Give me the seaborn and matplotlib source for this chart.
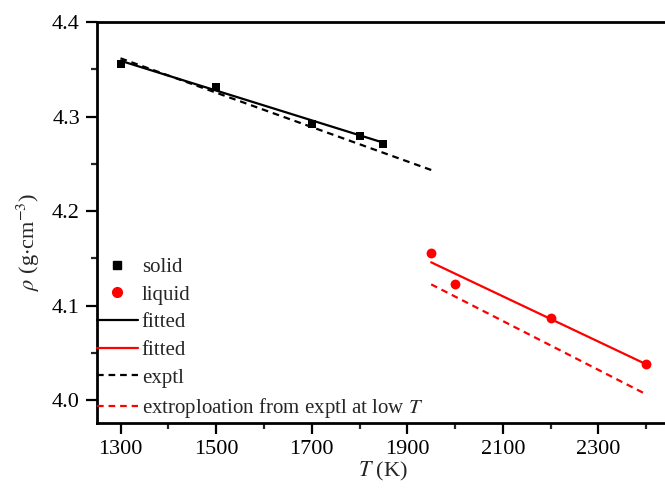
import matplotlib
matplotlib.use("Agg")
import matplotlib.pyplot as plt
import seaborn as sns
from matplotlib.ticker import MultipleLocator, FormatStrFormatter
from matplotlib.lines import Line2D

# ---- data ----
solid_T = [1300, 1500, 1700, 1800, 1850]
solid_rho = [4.356, 4.3316, 4.292, 4.2794, 4.271]
liquid_T = [1950, 2000, 2200, 2400]
liquid_rho = [4.1552, 4.1228, 4.0868, 4.0378]
fit_solid_T = [1300, 1850]
fit_solid_rho = [4.359, 4.2723]
fit_liquid_T = [1950, 2400]
fit_liquid_rho = [4.1457, 4.0378]
exptl_T = [1300, 1950]
exptl_rho = [4.3616, 4.2434]
extrap_T = [1950, 2400]
extrap_rho = [4.1224, 4.006]
x_ticks = [1300, 1500, 1700, 1900, 2100, 2300]
y_ticks = [4.0, 4.1, 4.2, 4.3, 4.4]

sns.set_style("ticks")
plt.rcParams['font.family'] = ['Liberation Serif', 'DejaVu Serif']
plt.rcParams['mathtext.fontset'] = 'stix'

fig = plt.figure(figsize=(6.65, 4.91), dpi=100)
ax = fig.add_axes([96.6 / 665, (491 - 423) / 491, 573.6 / 665, (423 - 22) / 491])

lw = 1.6
dash = (0, (3, 2.2))
sns.lineplot(x=fit_solid_T, y=fit_solid_rho, ax=ax, color='black', lw=lw, label='_a')
sns.lineplot(x=exptl_T, y=exptl_rho, ax=ax, color='black', lw=lw, linestyle=dash, label='_b')
sns.lineplot(x=fit_liquid_T, y=fit_liquid_rho, ax=ax, color='red', lw=lw, label='_c')
sns.lineplot(x=extrap_T, y=extrap_rho, ax=ax, color='red', lw=lw, linestyle=dash, label='_d')
sns.scatterplot(x=solid_T, y=solid_rho, ax=ax, marker='s', color='black', s=40, linewidth=0, label='_e', zorder=5)
sns.scatterplot(x=liquid_T, y=liquid_rho, ax=ax, marker='o', color='red', s=50, linewidth=0, label='_f', zorder=5)

ax.set_xlim(1250, 2450)
ax.set_ylim(3.9757, 4.4)
ax.set_xticks(x_ticks)
ax.set_yticks(y_ticks)
ax.xaxis.set_minor_locator(MultipleLocator(100))
ax.yaxis.set_minor_locator(MultipleLocator(0.05))
ax.yaxis.set_major_formatter(FormatStrFormatter('%.1f'))
ax.tick_params(axis='both', which='major', direction='out', length=8, width=1.6, labelsize=16, colors='black', pad=4)
ax.tick_params(axis='both', which='minor', direction='out', length=4.5, width=1.6)
ax.tick_params(top=False, right=False, which='both')
for sp in ax.spines.values():
    sp.set_linewidth(2.0)
    sp.set_color('black')
    sp.set_visible(True)

ax.set_xlabel(r'$T$ (K)', fontsize=16, labelpad=1)
ax.set_ylabel(r'$\rho$ (g$\cdot$cm$^{-3}$)', fontsize=16)
ax.yaxis.set_label_coords(-0.095, 0.451)

handles = [
    Line2D([], [], marker='s', color='black', linestyle='none', markersize=6),
    Line2D([], [], marker='o', color='red', linestyle='none', markersize=7),
    Line2D([], [], color='black', lw=lw),
    Line2D([], [], color='red', lw=lw),
    Line2D([], [], color='black', lw=lw, linestyle=dash),
    Line2D([], [], color='red', lw=lw, linestyle=dash),
]
labels = ['solid', 'liquid', 'fitted', 'fitted', 'exptl', r'extroploation from exptl at low $T$']
leg = ax.legend(handles, labels, loc='lower left', bbox_to_anchor=(0.0, 0.008), frameon=False,
                fontsize=15, handlelength=1.97, handletextpad=0.2, labelspacing=0.39,
                borderpad=0.0, borderaxespad=0.0)

fig.savefig('out.png', dpi=100)
